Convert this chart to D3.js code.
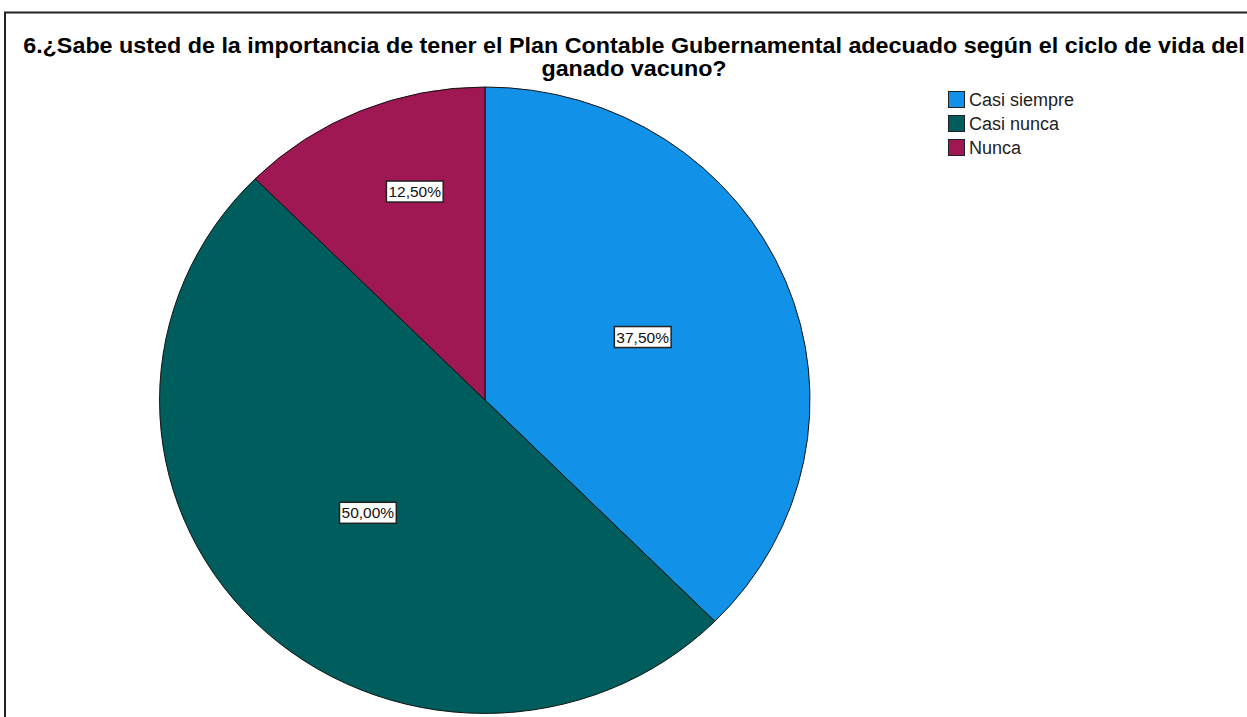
<!DOCTYPE html>
<html>
<head>
<meta charset="utf-8">
<script src="https://cdn.jsdelivr.net/npm/d3@7"></script>
<style>
  html, body { margin: 0; padding: 0; background: #fff; }
  svg { display: block; }
</style>
</head>
<body>
<svg id="chart" width="1247" height="717"></svg>
<script>
// Survey answers and their shares (%)
const categories = ["Casi siempre", "Casi nunca", "Nunca"];
const values = [37.5, 50.0, 12.5];
const colors = ["#1192e8", "#005d5d", "#9f1853"];
const titleLines = [
  "6.¿Sabe usted de la importancia de tener el Plan Contable Gubernamental adecuado según el ciclo de vida del",
  "ganado vacuno?"
];

const svg = d3.select("#chart");
const W = 1247, H = 717;
const FONT = "Liberation Sans, Arial, sans-serif";

// Frame of the chart area (left and top edges are visible)
svg.append("path")
  .attr("d", `M5,${H} L5,12.5 L${W},12.5`)
  .attr("fill", "none")
  .attr("stroke", "#222")
  .attr("stroke-width", 2);

// Title, centred and condensed to the width of the plot frame
const titleX = 634, titleWidth = 1222;
const titleG = svg.append("g");
const title = titleG.append("text")
  .attr("text-anchor", "middle")
  .attr("font-family", FONT)
  .attr("font-weight", "bold")
  .attr("font-size", 22.5)
  .attr("fill", "#000");
titleLines.forEach((t, i) => {
  title.append("tspan").attr("x", 0).attr("y", 53 + i * 23).text(t);
});
const tw = title.select("tspan").node().getComputedTextLength();
titleG.attr("transform", `translate(${titleX},0) scale(${titleWidth / tw},1)`);

// Pie geometry (slightly wider than tall)
const cx = 485, cy = 400, ry = 313, rx = 325;
const pie = d3.pie().sort(null).value(d => d.value);
const data = categories.map((c, i) => ({ category: c, value: values[i], color: colors[i] }));
const arcs = pie(data);
const arc = d3.arc().innerRadius(0).outerRadius(ry);

const g = svg.append("g")
  .attr("transform", `translate(${cx},${cy}) scale(${rx / ry},1)`);

g.selectAll("path.slice")
  .data(arcs)
  .join("path")
  .attr("class", "slice")
  .attr("d", arc)
  .attr("fill", d => d.data.color)
  .attr("stroke", "#111")
  .attr("stroke-width", 1)
  .attr("vector-effect", "non-scaling-stroke");

// Value labels: boxed percentages placed inside each slice
const labelRadius = [0.525, 0.51, 0.70];
const labelAngle = [0.5, 0.5, 0.6];
const fmt = v => d3.format(".2f")(v).replace(".", ",") + "%";
const labels = svg.append("g")
  .attr("font-family", FONT)
  .attr("font-size", 15.5);

arcs.forEach((a, i) => {
  const ang = a.startAngle + (a.endAngle - a.startAngle) * labelAngle[i];
  const f = labelRadius[i];
  const x = cx + rx * f * Math.sin(ang);
  const y = cy - ry * f * Math.cos(ang);
  const lg = labels.append("g").attr("transform", `translate(${x},${y})`);
  const t = lg.append("text")
    .attr("text-anchor", "middle")
    .attr("dy", "0.35em")
    .attr("fill", "#111")
    .text(fmt(a.data.value));
  const bb = t.node().getBBox();
  lg.insert("rect", "text")
    .attr("x", bb.x - 2)
    .attr("y", bb.y - 2)
    .attr("width", bb.width + 4)
    .attr("height", bb.height + 4)
    .attr("fill", "#fff")
    .attr("stroke", "#222")
    .attr("stroke-width", 1.5);
});

// Legend
const legend = svg.append("g")
  .attr("transform", "translate(948,91)")
  .attr("font-family", FONT)
  .attr("font-size", 18);
const items = legend.selectAll("g.item")
  .data(data)
  .join("g")
  .attr("class", "item")
  .attr("transform", (d, i) => `translate(0,${i * 24})`);
items.append("rect")
  .attr("x", 0.5).attr("y", 0.5)
  .attr("width", 16).attr("height", 16)
  .attr("fill", d => d.color)
  .attr("stroke", "#222")
  .attr("stroke-width", 1);
items.append("text")
  .attr("x", 21)
  .attr("y", 8.5)
  .attr("dy", "0.35em")
  .attr("fill", "#222")
  .text(d => d.category);
</script>
</body>
</html>
